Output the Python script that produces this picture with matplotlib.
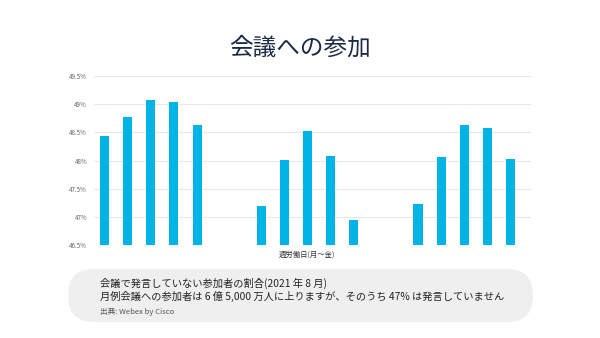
import matplotlib.pyplot as plt
from matplotlib.patches import FancyBboxPatch
import numpy as np

plt.rcParams['font.family'] = ['Noto Sans CJK JP', 'DejaVu Sans']

# 3 weeks x 5 weekdays (Mon-Fri), percent of silent participants
weeks = ['week1', 'week2', 'week3']
week1 = [48.43, 48.77, 49.08, 49.04, 48.63]
week2 = [47.19, 48.02, 48.52, 48.08, 46.95]
week3 = [47.24, 48.06, 48.63, 48.57, 48.03]
yticks = [46.5, 47, 47.5, 48, 48.5, 49, 49.5]
ytick_labels = ['46.5%', '47%', '47.5%', '48%', '48.5%', '49%', '49.5%']

title = '会議への参加'
xlabel = '週労働日(月〜金)'
note1 = '会議で発言していない参加者の割合(2021 年 8 月)'
note2 = '月例会議への参加者は 6 億 5,000 万人に上りますが、そのうち 47% は発言していません'
source = '出典: Webex by Cisco'

bar_color = '#00B4E6'
W, H = 600, 338

fig = plt.figure(figsize=(6, 3.38), dpi=100)

# chart area
ax = fig.add_axes([94 / W, (H - 245.3) / H, (531 - 94) / W, (245.3 - 76) / H])
data = np.array([week1, week2, week3])
x = np.arange(len(weeks))
step = 0.1477
for i in range(5):
    ax.bar(x + (i - 2) * step, data[:, i] - 46.5, bottom=46.5, width=0.058,
           color=bar_color, zorder=3)

ax.set_ylim(46.5, 49.5)
ax.set_xlim(-0.362, 2.425)
ax.set_yticks(yticks)
ax.set_yticklabels(ytick_labels, fontsize=4.5, color='#666666')
ax.set_xticks([])
ax.tick_params(axis='y', length=0, pad=5)
ax.grid(axis='y', color='#e8e8e8', linewidth=0.8, zorder=0)
for s in ax.spines.values():
    s.set_visible(False)
ax.set_xlabel(xlabel, fontsize=5.3, color='#333333', labelpad=2)
ax.xaxis.set_label_coords((307 - 94) / (531 - 94), -0.03)
ax.xaxis.label.set_va('top')

# overlay in pixel coordinates for title and note box
ov = fig.add_axes([0, 0, 1, 1], zorder=-1)
ov.set_xlim(0, W)
ov.set_ylim(H, 0)
ov.axis('off')

fig.text(0.5, (H - 48) / H, title, ha='center', va='center', fontsize=17,
         color='#1b2a45')

box = FancyBboxPatch((68, 269), 465, 53,
                     boxstyle='round,pad=0,rounding_size=26',
                     facecolor='#efefef', edgecolor='none')
ov.add_patch(box)
ov.text(100, 283, note1, fontsize=7.4, color='#222222', va='center', ha='left')
ov.text(100, 296, note2, fontsize=7.4, color='#222222', va='center', ha='left')
ov.text(100, 312, source, fontsize=5.5, color='#555555', va='center', ha='left')

fig.savefig('out.png', dpi=100)
